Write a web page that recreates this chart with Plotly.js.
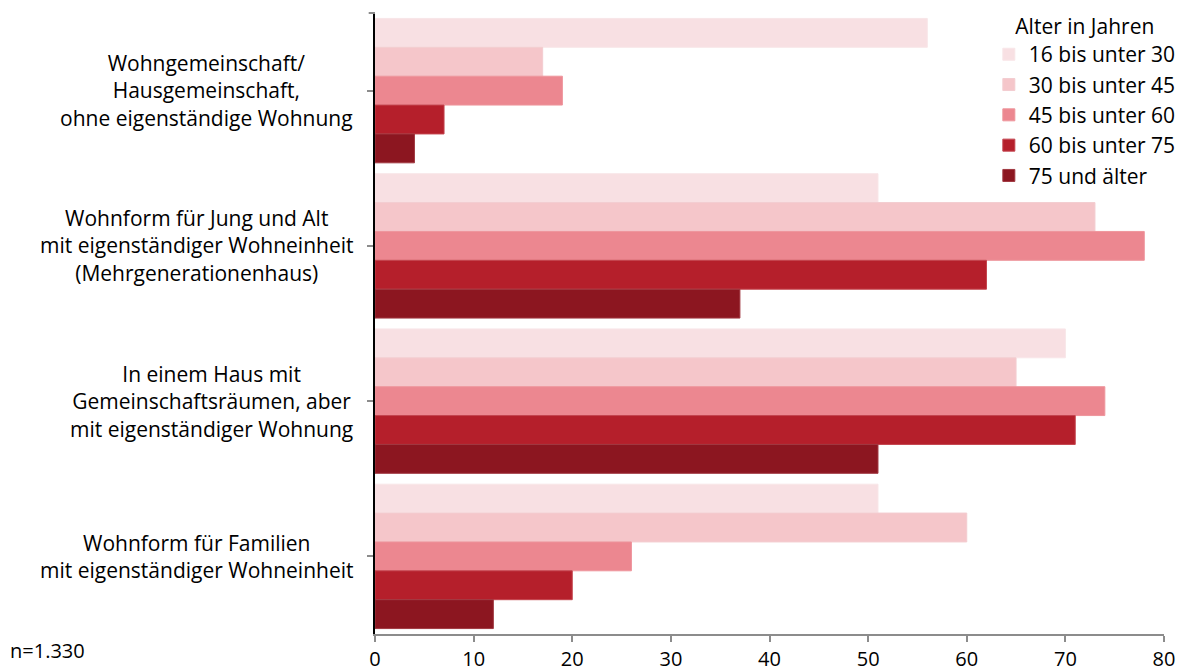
<!DOCTYPE html>
<html>
<head>
<meta charset="utf-8">
<script src="https://cdn.plot.ly/plotly-3.0.1.min.js"></script>
<style>html,body{margin:0;padding:0;background:#fff;}#chart{width:1189px;height:671px;}</style>
</head>
<body>
<div id="chart"></div>
<script>
const categories = [
  "Wohngemeinschaft/<br>Hausgemeinschaft,<br>ohne eigenständige Wohnung",
  "Wohnform für Jung und Alt<br>mit eigenständiger Wohneinheit<br>(Mehrgenerationenhaus)",
  "In einem Haus mit<br>Gemeinschaftsräumen, aber<br>mit eigenständiger Wohnung",
  "Wohnform für Familien<br>mit eigenständiger Wohneinheit"
];
const seriesNames = ["16 bis unter 30", "30 bis unter 45", "45 bis unter 60", "60 bis unter 75", "75 und älter"];
const age16_30 = [56, 51, 70, 51];
const age30_45 = [17, 73, 65, 60];
const age45_60 = [19, 78, 74, 26];
const age60_75 = [7, 62, 71, 20];
const age75plus = [4, 37, 51, 12];
const xTicks = [0, 10, 20, 30, 40, 50, 60, 70, 80];
const legendTitle = "Alter in Jahren";
const note = "n=1.330";

const seriesValues = [age16_30, age30_45, age45_60, age60_75, age75plus];
const colors = ["#F8E0E3", "#F5C6CA", "#EC8790", "#B51F2B", "#8C1620"];
const borders = ["#F8E6E8", "#F3CDD0", "#EE959C", "#C4444E", "#A03840"];
const FONT = "Open Sans, Noto Sans, sans-serif";
const FS = 21;

const traces = seriesValues.map((vals, i) => ({
  type: "bar",
  orientation: "h",
  name: seriesNames[i],
  y: categories,
  x: vals,
  marker: {color: colors[i], line: {color: borders[i], width: 1}},
  hoverinfo: "x+name"
}));

const annotations = categories.map(c => ({
  xref: "paper", yref: "y", x: -0.025, y: c, xanchor: "right", yanchor: "middle",
  text: c, showarrow: false, align: "center",
  font: {family: FONT, size: FS, color: "#000"}
}));
annotations.push({
  xref: "paper", yref: "paper", x: -0.465, y: -0.026, xanchor: "left", yanchor: "middle",
  text: note, showarrow: false, font: {family: FONT, size: 20, color: "#000"}
});

const layout = {
  width: 1189, height: 671,
  margin: {l: 375, r: 25, t: 13, b: 37, pad: 0, autoexpand: false},
  paper_bgcolor: "#fff", plot_bgcolor: "#fff",
  font: {family: FONT, size: FS, color: "#000"},
  barmode: "group",
  bargap: 0.07, bargroupgap: 0,
  showlegend: true,
  legend: {
    x: 0.778, xanchor: "left", y: 1.01, yanchor: "top",
    bgcolor: "rgba(255,255,255,0)",
    title: {text: legendTitle, side: "top center", font: {family: FONT, size: FS, color: "#000"}},
    font: {family: FONT, size: FS, color: "#000"},
    traceorder: "normal", tracegroupgap: 0, itemwidth: 30
  },
  xaxis: {
    range: [0, 80], tickvals: xTicks, ticktext: xTicks.map(String),
    showgrid: false, zeroline: false,
    showline: true, linecolor: "#8c8c8c", linewidth: 2,
    ticks: "outside", ticklen: 6, tickcolor: "#8c8c8c", tickwidth: 2,
    tickfont: {family: FONT, size: 20, color: "#000"},
    fixedrange: true
  },
  yaxis: {
    type: "category", autorange: false, range: [3.5, -0.5],
    showticklabels: false, showgrid: false, zeroline: false,
    showline: true, linecolor: "#000", linewidth: 2,
    ticks: "outside", ticklen: 6, tickcolor: "#8c8c8c", tickwidth: 2,
    fixedrange: true
  },
  annotations: annotations,
  shapes: [{
    type: "line", xref: "paper", yref: "paper", x0: -0.008, x1: 0, y0: 1, y1: 1,
    line: {color: "#8c8c8c", width: 2}
  }]
};

Plotly.newPlot("chart", traces, layout, {displayModeBar: false, staticPlot: true});
</script>
</body>
</html>
